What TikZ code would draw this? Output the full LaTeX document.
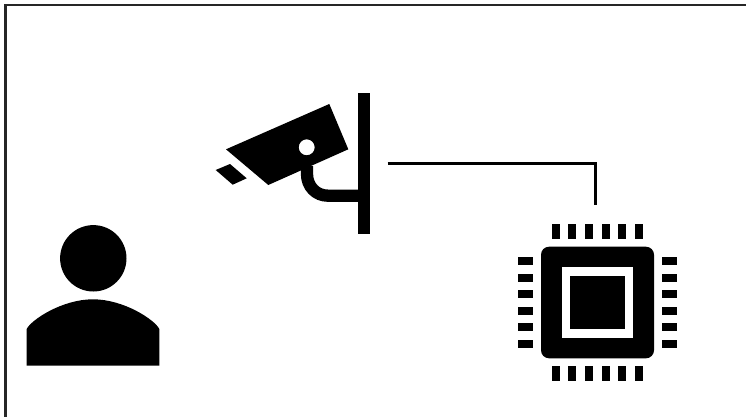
\documentclass[tikz,border=0pt]{standalone}
\tikzset{
	icon/.style={fill=black, draw=none},
	wire/.style={draw=black, line width=3.4pt},
	frameline/.style={draw=black!85, line width=2.2pt}
}
\begin{document}
\begin{tikzpicture}[x=1pt, y=-1pt, line join=miter]
		% Bounding box definition
		\useasboundingbox (0,0) rectangle (746,417);
		\fill[white] (0,0) rectangle (746,417);
		
		% Frame, only top and left edges show
		\draw[frameline] (5.5,417) -- (5.5,5) -- (746,5);
		
		% Person
		\fill[icon] (93.3,258.3) circle (33.2);
		\fill[icon] (26.7,365.7) -- (26.7,329)
		.. controls (31,320) and (62,299.3) .. (93,299.3)
		.. controls (124,299.3) and (155,320) .. (159.3,329)
		-- (159.3,365.7) -- cycle;
		
		% Camera body with lens hole
		\fill[icon, even odd rule] (226,149.3) -- (329.3,104) -- (348.3,149.3) -- (268.3,185) -- cycle
		(306.7,147.3) circle (8);
		\fill[icon] (215.7,170) -- (230,164) -- (246.7,178.3) -- (232.7,184.7) -- cycle;
		
		% Camera arm and wall bar
		\draw[black, line width=12.3pt] (307,166) -- (307,174) .. controls (307,186.5) and (316,195.7) .. (328,195.7) -- (363.8,195.7);
		\fill[icon] (357.6,92.7) rectangle (370,234);
		
		% Chip body and core
		\fill[icon, rounded corners=8pt] (541,246.7) rectangle (654,358.3);
		\fill[white] (562.3,267.3) rectangle (632.7,338);
		\fill[icon] (570,275.7) rectangle (624.7,329.3);
		
		% Chip pins on all four sides
		\foreach \p in {0,...,5} {
			\fill[icon] ({551.6+16.65*\p},224.3) rectangle ({559.8+16.65*\p},239.3);
			\fill[icon] ({551.6+16.65*\p},366) rectangle ({559.8+16.65*\p},380.7);
			\fill[icon] (518,{257+16.55*\p}) rectangle (533.3,{265+16.55*\p});
			\fill[icon] (661.7,{257+16.55*\p}) rectangle (677,{265+16.55*\p});
		}
		
		% Connector from camera to chip
		\coordinate (camera) at (387.5,163.5);
		\coordinate (chip) at (595.5,205);
		\draw[wire] (camera) -| (chip);
	\end{tikzpicture}
\end{document}
